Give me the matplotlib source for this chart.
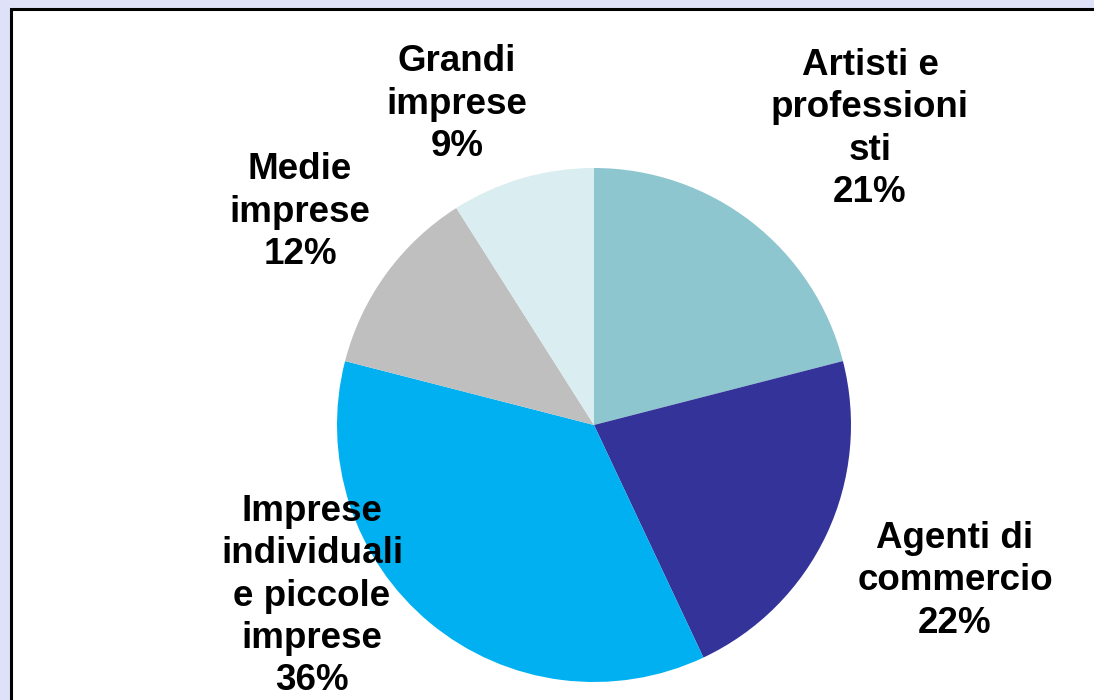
import matplotlib
matplotlib.use("Agg")
import matplotlib.pyplot as plt
from matplotlib.patches import Rectangle

categories = ["Artisti e\nprofessioni\nsti", "Agenti di\ncommercio",
              "Imprese\nindividuali\ne piccole\nimprese", "Medie\nimprese",
              "Grandi\nimprese"]
values = [21, 22, 36, 12, 9]
colors = ["#8DC6CF", "#333399", "#00B0F0", "#BFBFBF", "#DAEDF0"]

# label centres in pixel coordinates (layout)
label_px = [(870, 129), (955, 581), (312, 596), (300, 212), (457, 104)]

W, H = 1094, 700
fig = plt.figure(figsize=(W / 100, H / 100), dpi=100)
fig.patch.set_facecolor("#DEE1F7")

# white panel with black border
panel = Rectangle((10.5 / W, -0.1), 1.2, (H - 9.5) / H + 0.1,
                  transform=fig.transFigure, facecolor="white",
                  edgecolor="black", linewidth=2.2, zorder=-1)
fig.patches.append(panel)

cx, cy, R = 594, 425, 257
ax = fig.add_axes([0, 0, 1, 1])
ax.set_zorder(1)
ax.axis("off")
ax.patch.set_alpha(0)

ax.pie(values, colors=colors, startangle=90, counterclock=False,
       radius=1, center=(0, 0), wedgeprops=dict(linewidth=0))
ax.set_xlim(-cx / R, (W - cx) / R)
ax.set_ylim(-(H - cy) / R, cy / R)
ax.set_aspect("auto")

for cat, v, (px, py) in zip(categories, values, label_px):
    ax.text((px - cx) / R, (cy - py) / R, f"{cat}\n{v}%",
            ha="center", va="center", fontsize=26.5, fontweight="bold",
            family="Liberation Sans", linespacing=1.26, color="black")

fig.savefig("out.png", dpi=100, facecolor=fig.get_facecolor())
